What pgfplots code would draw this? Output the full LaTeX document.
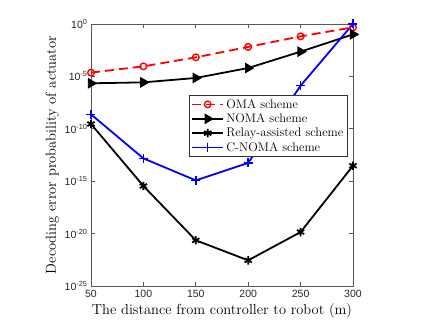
\documentclass[border=0pt]{standalone}
\usepackage{fontspec}
\usepackage{pgfplots}
\pgfplotsset{compat=1.18}
\newfontfamily\ticksf{Liberation Sans}

\begin{document}
\begin{tikzpicture}
\path[use as bounding box] (-91pt,-37pt) rectangle (338pt,286pt);
\begin{axis}[
    at={(0,0)}, anchor=south west,
    width=262pt, height=262pt, scale only axis,
    ymode=log, log basis y=10,
    xmin=50, xmax=300, ymin=1e-25, ymax=1,
    xtick={50,100,150,200,250,300},
    ytick={1e-25,1e-20,1e-15,1e-10,1e-5,1},
    yticklabels={10\textsuperscript{-25},10\textsuperscript{-20},10\textsuperscript{-15},10\textsuperscript{-10},10\textsuperscript{-5},10\textsuperscript{0}},
    minor ytick={}, minor xtick={},
    tick align=inside, xtick pos=both, ytick pos=both,
    major tick length=4pt,
    axis line style={draw=black!65, line width=0.7pt},
    every tick/.style={draw=black!65, line width=0.7pt},
    /pgf/number format/assume math mode=true,
    tick label style={font=\ticksf\fontsize{10.5}{12}\selectfont, text=black!85},
    xticklabel style={yshift=-1pt},
    label style={font=\fontsize{14.5}{16}\selectfont},
    xlabel={The distance from controller to robot (m)},
    ylabel={Decoding error probability of actuator},
    xlabel style={yshift=1pt},
    ylabel style={yshift=-1pt},
    legend style={at={(0.374,0.729)}, anchor=north west,
        font=\fontsize{12.5}{15}\selectfont, draw=black!80, fill=white,
        row sep=0pt, inner sep=2pt},
    legend cell align=left,
    legend image code/.code={\draw[mark repeat=2,mark phase=2] plot coordinates {(0cm,0cm) (0.55cm,0cm) (1.1cm,0cm)};},
]
\addplot[color=red, line width=1.8pt, dash pattern=on 9pt off 5pt, mark=o, mark size=3.3pt, mark options={solid, line width=1.4pt}]
  coordinates {(50,2.29e-5) (100,9.1e-5) (150,6.6e-4) (200,6.5e-3) (250,6.6e-2) (300,0.48)};
\addlegendentry{OMA scheme}
\addplot[color=black, line width=1.8pt, mark=triangle*, mark size=4.5pt, mark options={rotate=-90, solid}]
  coordinates {(50,2.19e-6) (100,2.7e-6) (150,7.1e-6) (200,6.3e-5) (250,2.3e-3) (300,0.102)};
\addlegendentry{NOMA scheme}
\addplot[color=black, line width=1.8pt, mark=asterisk, mark size=4.2pt, mark options={solid, line width=1.8pt}]
  coordinates {(50,2.9e-10) (100,3.5e-16) (150,2.3e-21) (200,2.8e-23) (250,1.4e-20) (300,3.0e-14)};
\addlegendentry{Relay-assisted scheme}
\addplot[color=blue, line width=1.8pt, mark=+, mark size=4.5pt, mark options={solid, line width=1.5pt}]
  coordinates {(50,2.4e-9) (100,1.5e-13) (150,1.2e-15) (200,5.5e-14) (250,1.3e-6) (300,1)};
\addlegendentry{C-NOMA scheme}
\end{axis}
\end{tikzpicture}
\end{document}
